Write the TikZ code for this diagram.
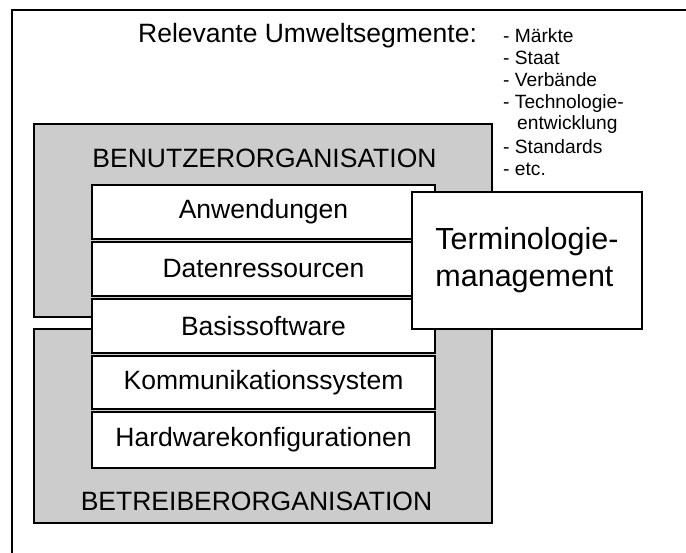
\documentclass[tikz,border=0pt]{standalone}
\usepackage{fontspec}
\setmainfont{Liberation Sans}
\begin{document}
\begin{tikzpicture}[x=1pt,y=-1pt,
  grayorg/.style={draw=black,line width=2pt,fill=black!20,inner sep=0pt,minimum width=458pt},
  layer/.style={draw=black,line width=2pt,fill=white,inner sep=0pt,minimum width=343pt,
     font=\fontsize{26.5}{30}\selectfont},
  termbox/.style={draw=black,line width=2pt,fill=white,inner sep=0pt,minimum width=230pt,
     minimum height=137pt,align=left,font=\fontsize{30.5}{37}\selectfont},
  bigtxt/.style={inner sep=0pt,anchor=base,font=\fontsize{26.5}{30}\selectfont},
  listtxt/.style={inner sep=0pt,anchor=base west,font=\fontsize{19.2}{22}\selectfont},
  frame/.style={line width=2pt,black}]
\useasboundingbox (0,0) rectangle (686,553);
% outer frame (open on right and bottom)
\coordinate (fr) at (686,10);
\coordinate (fc) at (12,10);
\coordinate (fb) at (12,553);
\draw[frame] (fr) -- (fc) -- (fb);
% title and list
\node[bigtxt,anchor=base west] (title) at (138,43) {Relevante Umweltsegmente:};
\node[listtxt] (l1) at (503,43) {- Märkte};
\node[listtxt] (l2) at (503,65) {- Staat};
\node[listtxt] (l3) at (503,87) {- Verbände};
\node[listtxt] (l4) at (503,108.5) {- Technologie-};
\node[listtxt] (l5) at (517,130) {entwicklung};
\node[listtxt] (l6) at (503,154) {- Standards};
\node[listtxt] (l7) at (503,176) {- etc.};
% gray organisations
\node[grayorg,minimum height=193pt] (benutzer) at (263,220.5) {};
\node[grayorg,minimum height=194pt] (betreiber) at (263,426) {};
\node[bigtxt] (benutzerlbl) at (264.5,168) {BENUTZERORGANISATION};
\node[bigtxt] (betreiberlbl) at (256.5,510) {BETREIBERORGANISATION};
% layers
\node[layer,minimum height=54pt] (app) at (263.5,212) {Anwendungen};
\node[layer,minimum height=54pt] (data) at (263.5,269) {Datenressourcen};
\node[layer,minimum height=54pt] (base) at (263.5,326) {Basissoftware};
\node[layer,minimum height=53pt] (comm) at (263.5,382.5) {Kommunikationssystem};
\node[layer,minimum height=55pt] (hw) at (263.5,440) {Hardwarekonfigurationen};
% terminology management
\node[termbox] (term) at (527,260.5) {Terminologie-\\management};
\end{tikzpicture}
\end{document}
